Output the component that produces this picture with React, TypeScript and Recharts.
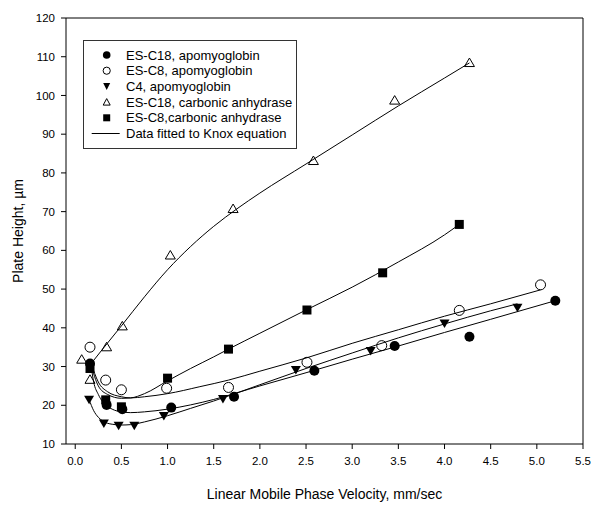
import { ScatterChart, Scatter, XAxis, YAxis, ReferenceLine, Legend } from 'recharts';

const FONT = '"Liberation Sans", Arial, sans-serif';

const xTicks = [0, 0.5, 1, 1.5, 2, 2.5, 3, 3.5, 4, 4.5, 5, 5.5];
const yTicks = [10, 20, 30, 40, 50, 60, 70, 80, 90, 100, 110, 120];

// measured points, [velocity mm/sec, plate height um]
const esC18Apo = [[0.16, 30.8], [0.34, 20.1], [0.51, 19.0], [1.04, 19.4], [1.72, 22.2], [2.59, 28.9], [3.46, 35.3], [4.27, 37.7], [5.2, 47.0]];
const esC8Apo = [[0.16, 35.0], [0.33, 26.5], [0.5, 24.0], [0.99, 24.4], [1.66, 24.6], [2.51, 31.1], [3.32, 35.4], [4.16, 44.5], [5.04, 51.1]];
const c4Apo = [[0.15, 21.4], [0.31, 15.3], [0.47, 14.7], [0.64, 14.7], [0.96, 17.2], [1.6, 21.6], [2.39, 29.1], [3.2, 34.0], [4.0, 41.1], [4.79, 45.2]];
const esC18Ca = [[0.07, 31.9], [0.16, 26.7], [0.34, 35.1], [0.51, 40.5], [1.03, 58.8], [1.71, 70.8], [2.58, 83.2], [3.46, 98.8], [4.27, 108.5]];
const esC8Ca = [[0.16, 29.5], [0.33, 21.4], [0.5, 19.6], [1.0, 27.0], [1.66, 34.5], [2.51, 44.6], [3.33, 54.2], [4.16, 66.7]];

// Knox fit curves
const fitEsC18Apo = [[0.17, 30.5], [0.2, 26.0], [0.25, 22.8], [0.3, 20.8], [0.4, 19.0], [0.5, 18.3], [0.6, 18.1], [0.75, 18.3], [1.0, 19.0], [1.25, 20.1], [1.5, 21.5], [2.0, 25.0], [2.5, 28.4], [3.0, 31.9], [3.5, 35.3], [4.0, 38.8], [4.5, 42.2], [5.2, 47.0]];
const fitEsC8Apo = [[0.17, 31.0], [0.25, 26.0], [0.35, 23.5], [0.5, 22.2], [0.6, 21.9], [0.75, 22.2], [1.0, 23.0], [1.35, 24.8], [1.66, 26.5], [2.0, 28.8], [2.5, 32.2], [3.0, 36.0], [3.5, 39.5], [4.0, 43.0], [4.5, 46.2], [5.04, 49.8]];
const fitC4Apo = [[0.15, 21.5], [0.2, 18.6], [0.25, 16.9], [0.3, 15.9], [0.4, 15.1], [0.5, 14.9], [0.6, 15.0], [0.75, 15.7], [1.0, 17.3], [1.25, 19.2], [1.5, 21.1], [2.0, 25.3], [2.5, 29.5], [3.0, 33.5], [3.5, 37.4], [4.0, 41.0], [4.5, 44.4], [4.79, 46.2]];
const fitEsC18Ca = [[0.18, 31.0], [0.3, 34.6], [0.5, 40.5], [0.75, 48.0], [1.0, 55.0], [1.25, 61.0], [1.5, 66.2], [1.75, 70.7], [2.0, 74.8], [2.5, 82.3], [3.0, 89.8], [3.5, 97.3], [4.0, 104.5], [4.27, 108.4]];
const fitEsC8Ca = [[0.17, 30.5], [0.25, 25.0], [0.35, 22.8], [0.5, 21.8], [0.6, 21.9], [0.75, 23.0], [1.0, 26.3], [1.25, 29.5], [1.5, 32.5], [1.66, 34.5], [2.0, 38.6], [2.5, 44.6], [3.0, 50.5], [3.5, 57.0], [4.0, 64.0], [4.16, 66.7]];

const legendLabels = [
  'ES-C18, apomyoglobin',
  'ES-C8, apomyoglobin',
  'C4, apomyoglobin',
  'ES-C18, carbonic anhydrase',
  'ES-C8,carbonic anhydrase',
  'Data fitted to Knox equation',
];

const pts = (a: number[][]) => a.map(([x, y]) => ({ x, y }));

const FilledCircle = (p: any) => <circle cx={p.cx} cy={p.cy} r={5} fill="#000" />;
const OpenCircle = (p: any) => <circle cx={p.cx} cy={p.cy} r={5} fill="none" stroke="#000" strokeWidth={1} />;
const DownTri = (p: any) => (
  <polygon points={`${p.cx - 5},${p.cy - 4} ${p.cx + 5},${p.cy - 4} ${p.cx},${p.cy + 4.5}`} fill="#000" />
);
const UpTri = (p: any) => (
  <polygon points={`${p.cx},${p.cy - 4.5} ${p.cx + 5},${p.cy + 4} ${p.cx - 5},${p.cy + 4}`} fill="none" stroke="#000" strokeWidth={1} />
);
const Square = (p: any) => <rect x={p.cx - 4.5} y={p.cy - 4.5} width={9} height={9} fill="#000" />;
const NoDot = () => <g />;

const legendIcon = (i: number, x: number, y: number) => {
  switch (i) {
    case 0: return <circle cx={x} cy={y} r={3.8} fill="#000" />;
    case 1: return <circle cx={x} cy={y} r={3.6} fill="none" stroke="#000" />;
    case 2: return <polygon points={`${x - 3.5},${y - 3.5} ${x + 3.5},${y - 3.5} ${x},${y + 3.5}`} fill="#000" />;
    case 3: return <polygon points={`${x},${y - 3.5} ${x + 3.5},${y + 3} ${x - 3.5},${y + 3}`} fill="none" stroke="#000" />;
    case 4: return <rect x={x - 3.5} y={y - 3.5} width={7} height={7} fill="#000" />;
    default: return <line x1={x - 15} y1={y} x2={x + 13} y2={y} stroke="#000" strokeWidth={1} />;
  }
};

const LegendBox = () => (
  <svg width={214} height={109} style={{ display: 'block' }}>
    <rect x={0.5} y={0.5} width={213} height={108} fill="#fff" stroke="#333" strokeWidth={1} />
    {legendLabels.map((t, i) => {
      const cy = 15 + i * 15.7;
      return (
        <g key={t}>
          {legendIcon(i, 23.7, cy)}
          <text x={43} y={cy} dominantBaseline="central" fontSize={13} fontFamily={FONT} fill="#000">{t}</text>
        </g>
      );
    })}
  </svg>
);

export default function App() {
  const tickStyle = { fontSize: 11.5, fill: '#000', fontFamily: FONT };
  return (
    <div style={{ position: 'absolute', left: 0, top: 0, background: '#fff' }}>
      <ScatterChart width={600} height={511} margin={{ top: 18, right: 17, bottom: 0, left: 0 }}>
        <XAxis
          type="number"
          dataKey="x"
          domain={[-0.1, 5.5]}
          ticks={xTicks}
          tickFormatter={(v: number) => v.toFixed(1)}
          allowDataOverflow
          height={67}
          stroke="#000"
          tickSize={5}
          tickMargin={8}
          tick={tickStyle}
          label={{ value: 'Linear Mobile Phase Velocity, mm/sec', position: 'insideBottom', offset: 12, style: { fontSize: 14, fill: '#000', fontFamily: FONT } }}
        />
        <YAxis
          type="number"
          dataKey="y"
          domain={[10, 120]}
          ticks={yTicks}
          allowDataOverflow
          width={66}
          stroke="#000"
          tickSize={5}
          tickMargin={6}
          tick={tickStyle}
          label={(props: any) => {
            const vb = props.viewBox || { x: 0, y: 18, height: 426 };
            const cx = vb.x + 18;
            const cy = vb.y + vb.height / 2;
            return (
              <text x={cx} y={cy} transform={`rotate(-90 ${cx} ${cy})`} textAnchor="middle" dominantBaseline="central" fontSize={14} fontFamily={FONT} fill="#000">
                Plate Height, µm
              </text>
            );
          }}
        />
        <ReferenceLine y={120} stroke="#000" />
        <ReferenceLine x={5.5} stroke="#000" />

        <Scatter data={pts(fitEsC18Apo)} line={{ stroke: '#000', strokeWidth: 1 }} lineJointType="monotoneX" shape={NoDot} isAnimationActive={false} legendType="none" />
        <Scatter data={pts(fitEsC8Apo)} line={{ stroke: '#000', strokeWidth: 1 }} lineJointType="monotoneX" shape={NoDot} isAnimationActive={false} legendType="none" />
        <Scatter data={pts(fitC4Apo)} line={{ stroke: '#000', strokeWidth: 1 }} lineJointType="monotoneX" shape={NoDot} isAnimationActive={false} legendType="none" />
        <Scatter data={pts(fitEsC18Ca)} line={{ stroke: '#000', strokeWidth: 1 }} lineJointType="monotoneX" shape={NoDot} isAnimationActive={false} legendType="none" />
        <Scatter data={pts(fitEsC8Ca)} line={{ stroke: '#000', strokeWidth: 1 }} lineJointType="monotoneX" shape={NoDot} isAnimationActive={false} legendType="none" />

        <Scatter name="ES-C18, carbonic anhydrase" data={pts(esC18Ca)} shape={UpTri} isAnimationActive={false} />
        <Scatter name="ES-C8, apomyoglobin" data={pts(esC8Apo)} shape={OpenCircle} isAnimationActive={false} />
        <Scatter name="C4, apomyoglobin" data={pts(c4Apo)} shape={DownTri} isAnimationActive={false} />
        <Scatter name="ES-C18, apomyoglobin" data={pts(esC18Apo)} shape={FilledCircle} isAnimationActive={false} />
        <Scatter name="ES-C8,carbonic anhydrase" data={pts(esC8Ca)} shape={Square} isAnimationActive={false} />

        <Legend
          layout="vertical"
          align="center"
          verticalAlign="middle"
          content={() => <LegendBox />}
          wrapperStyle={{ left: 83, top: 40, width: 214, height: 109 }}
        />
      </ScatterChart>
    </div>
  );
}
